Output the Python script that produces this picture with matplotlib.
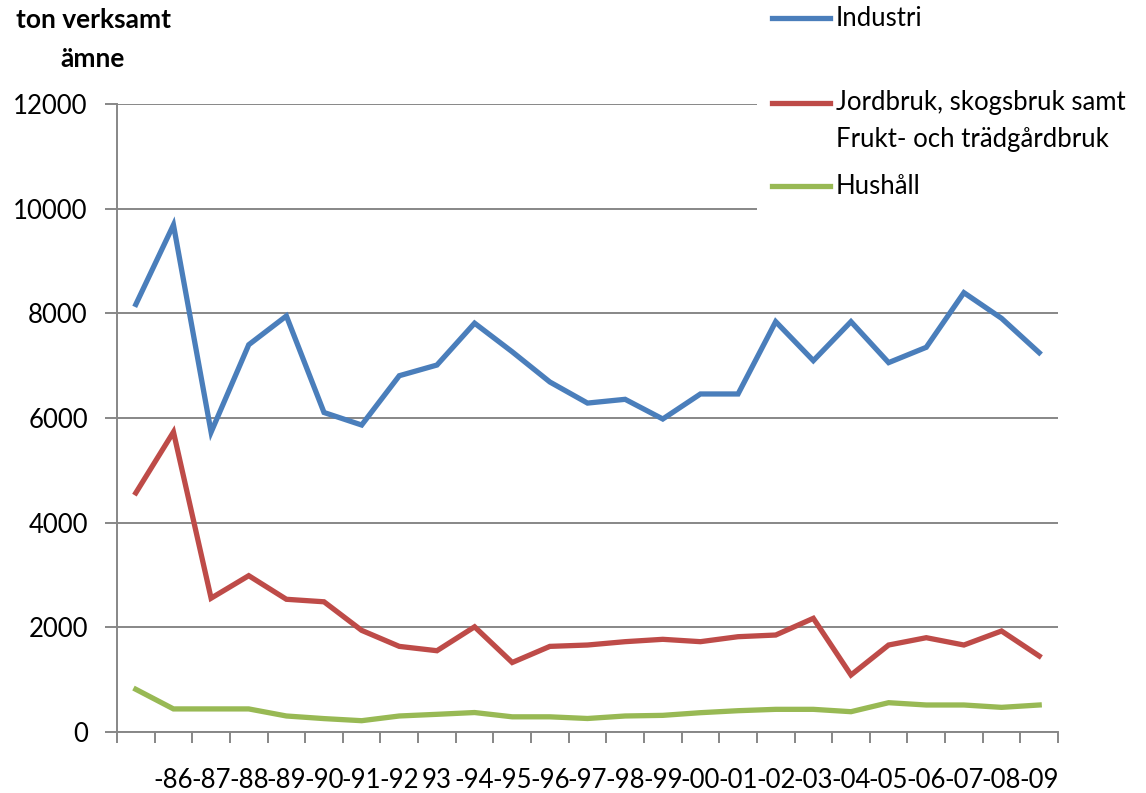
import matplotlib
matplotlib.use('Agg')
import matplotlib.pyplot as plt
from matplotlib.lines import Line2D
from matplotlib.patches import Rectangle

plt.rcParams['font.family'] = ['Lato', 'DejaVu Sans']

# category labels as they show on the chart (first one is blank)
labels = ['', '-86', '-87', '-88', '-89', '-90', '-91', '-92', '93', '-94', '-95',
          '-96', '-97', '-98', '-99', '-00', '-01', '-02', '-03', '-04', '-05',
          '-06', '-07', '-08', '-09']

industri = [8170, 9690, 5730, 7400, 7950, 6105, 5866, 6808, 7012, 7812, 7265,
            6688, 6285, 6357, 5981, 6459, 6459, 7841, 7096, 7841, 7058, 7351,
            8395, 7905, 7248]
jordbruk = [4569, 5732, 2557, 2987, 2536, 2488, 1942, 1636, 1553, 2010, 1328,
            1636, 1662, 1726, 1771, 1726, 1821, 1853, 2172, 1089, 1662, 1802,
            1662, 1930, 1452]
hushall = [816, 441, 441, 441, 306, 256, 216, 306, 338, 372, 290,
           290, 258, 306, 318, 369, 407, 433, 433, 388, 560, 516,
           516, 471, 516]

names = ['Industri', 'Jordbruk, skogsbruk samt\nFrukt- och trädgårdbruk', 'Hushåll']
colors = ['#4A7EBB', '#BE4B48', '#98B954']
grid_col = '#878787'

fig = plt.figure(figsize=(11.46, 7.93), dpi=100)
ax = fig.add_axes([117/1146, 1 - 732/793, 941/1146, 628/793])

x = list(range(len(labels)))
for s, c in zip([industri, jordbruk, hushall], colors):
    ax.plot(x, s, color=c, linewidth=3.8, solid_joinstyle='miter', zorder=3)

ax.set_xlim(-0.5, len(labels) - 0.5)
ax.set_ylim(0, 12000)
ax.set_yticks(range(0, 12001, 2000))
ax.yaxis.grid(True, color=grid_col, linewidth=1.4, zorder=0)
ax.set_axisbelow(True)

# ticks between categories, labels at centres
ax.set_xticks([i - 0.5 for i in range(len(labels) + 1)])
ax.set_xticklabels([])
ax.set_xticks(x, minor=True)
ax.set_xticklabels(labels, minor=True)
ax.tick_params(axis='x', which='major', length=8, width=1.4, color=grid_col, direction='out')
ax.tick_params(axis='x', which='minor', length=0, pad=26, labelsize=18.5)
ax.tick_params(axis='y', length=9, width=1.4, color=grid_col, pad=12, labelsize=18.5)

for side in ['top', 'right']:
    ax.spines[side].set_visible(False)
for side in ['left', 'bottom']:
    ax.spines[side].set_color(grid_col)
    ax.spines[side].set_linewidth(1.4)

fig.text(93/1146, 1 - 8/793, 'ton verksamt\nämne', ha='center', va='top',
         fontsize=19, fontweight='bold', linespacing=1.75)

# legend box (white, covers the top gridlines on the right)
fig.add_artist(Rectangle((757/1146, 1 - 215/793), 1 - 757/1146, 215/793,
                         transform=fig.transFigure, facecolor='white',
                         edgecolor='none', zorder=5))
leg_y = [18, 103, 186]
for name, c, yy in zip(names, colors, leg_y):
    fy = 1 - yy/793
    fig.add_artist(Line2D([772/1146, 830/1146], [fy, fy], transform=fig.transFigure,
                          color=c, linewidth=3.8, zorder=6))
    if '\n' in name:
        fig.text(836/1146, 1 - (yy - 13)/793, name, ha='left', va='top',
                 fontsize=18.5, linespacing=1.6, zorder=7)
    else:
        fig.text(836/1146, fy, name, ha='left', va='center',
                 fontsize=18.5, zorder=7)

fig.savefig('out.png', dpi=100)
